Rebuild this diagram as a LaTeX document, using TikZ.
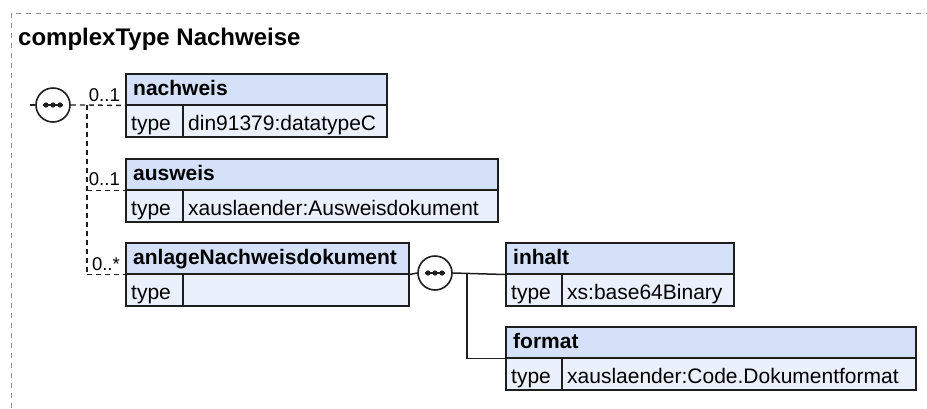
\documentclass[tikz,border=0pt]{standalone}
\usepackage{fontspec}
\setmainfont{Liberation Sans}
\definecolor{hdrfill}{HTML}{D4E1F8}
\definecolor{bodyfill}{HTML}{EAF1FC}
\definecolor{edge}{HTML}{1E1E1E}
\definecolor{framegray}{HTML}{8C8C8C}
\tikzset{
  hdr/.style={draw=edge, fill=hdrfill, line width=1.5pt, inner sep=0pt, anchor=north west},
  cell/.style={draw=edge, fill=bodyfill, line width=1.5pt, inner sep=0pt, anchor=north west},
  nametext/.style={font=\fontsize{21}{21}\selectfont\bfseries, inner sep=0pt, anchor=base west},
  typetext/.style={font=\fontsize{21}{21}\selectfont, inner sep=0pt, anchor=base west},
  cardtext/.style={font=\fontsize{18.5}{18.5}\selectfont, inner sep=0pt, anchor=base east},
  seqcircle/.style={circle, draw=edge, fill=white, line width=1.6pt, minimum size=34pt, inner sep=0pt},
  optline/.style={draw=edge, line width=1.4pt, dash pattern=on 5pt off 4pt},
  reqline/.style={draw=edge, line width=1.5pt},
}
\newcommand{\xsdel}[7]{%
  \node[hdr, minimum width={#4-#2}, minimum height=31] (#1-h) at (#2,#5) {};
  \node[cell, minimum width={#3-#2}, minimum height=32] (#1-t) at (#2,#5+31) {};
  \node[cell, minimum width={#4-#3}, minimum height=32] (#1-v) at (#3,#5+31) {};
  \node[nametext] (#1-n) at (#2+8,#5+22) {#6};
  \node[typetext] (#1-tt) at (#2+6,#5+57) {type};
  \node[typetext] (#1-vt) at (#3+6,#5+57) {#7};
}
\newcommand{\seqdots}[1]{%
  \draw[edge, line width=1.6pt] ([xshift=-10pt]#1.center) -- ([xshift=10pt]#1.center);
  \foreach \dx in {-7,0,7} \fill[edge] ([xshift=\dx pt]#1.center) circle (2.6pt);
}
\begin{document}
\begin{tikzpicture}[x=1pt,y=-1pt]
\useasboundingbox (0,0) rectangle (927,408);
% frame
\draw[framegray, line width=1pt, dash pattern=on 5pt off 5pt] (11,408) -- (11,13) -- (927,13);
\node[font=\fontsize{24}{24}\selectfont\bfseries, inner sep=0pt, anchor=base west] (title) at (18,45) {complexType Nachweise};

% elements
\xsdel{nachweis}{125}{182}{386}{73}{nachweis}{din91379:datatypeC}
\xsdel{ausweis}{125}{182}{497}{158}{ausweis}{xauslaender:Ausweisdokument}
\xsdel{anlage}{125}{182}{408}{242}{anlageNachweisdokument}{}
\xsdel{inhalt}{505}{561}{733}{242}{inhalt}{xs:base64Binary}
\xsdel{format}{505}{561}{915}{326}{format}{xauslaender:Code.Dokumentformat}

% sequence 1
\node[seqcircle] (s1) at (53,105) {};
\seqdots{s1}
\coordinate (in1) at (30,105);
\coordinate (j1) at (87,105);
\coordinate (j1b) at (87,273);
\path[optline] (in1) -- (s1.west);
\path[optline] (s1.east) -- (j1) -- (nachweis-h.south west);
\path[optline] (j1) -- (j1b);
\path[optline] (j1b |- ausweis-h.south west) -- (ausweis-h.south west);
\path[optline] (j1b |- anlage-h.south west) -- (anlage-h.south west);
\node[cardtext] (c1) at (120,101) {0..1};
\node[cardtext] (c2) at (120,185) {0..1};
\node[cardtext] (c3) at (120,270) {0..*};

% sequence 2
\node[seqcircle] (s2) at (435,273) {};
\seqdots{s2}
\coordinate (j2) at (467,273);
\path[reqline] (anlage-h.south east) -- (s2.west);
\path[reqline] (s2.east) -- (inhalt-h.south west);
\path[reqline] (j2) |- (format-h.south west);
\end{tikzpicture}
\end{document}
